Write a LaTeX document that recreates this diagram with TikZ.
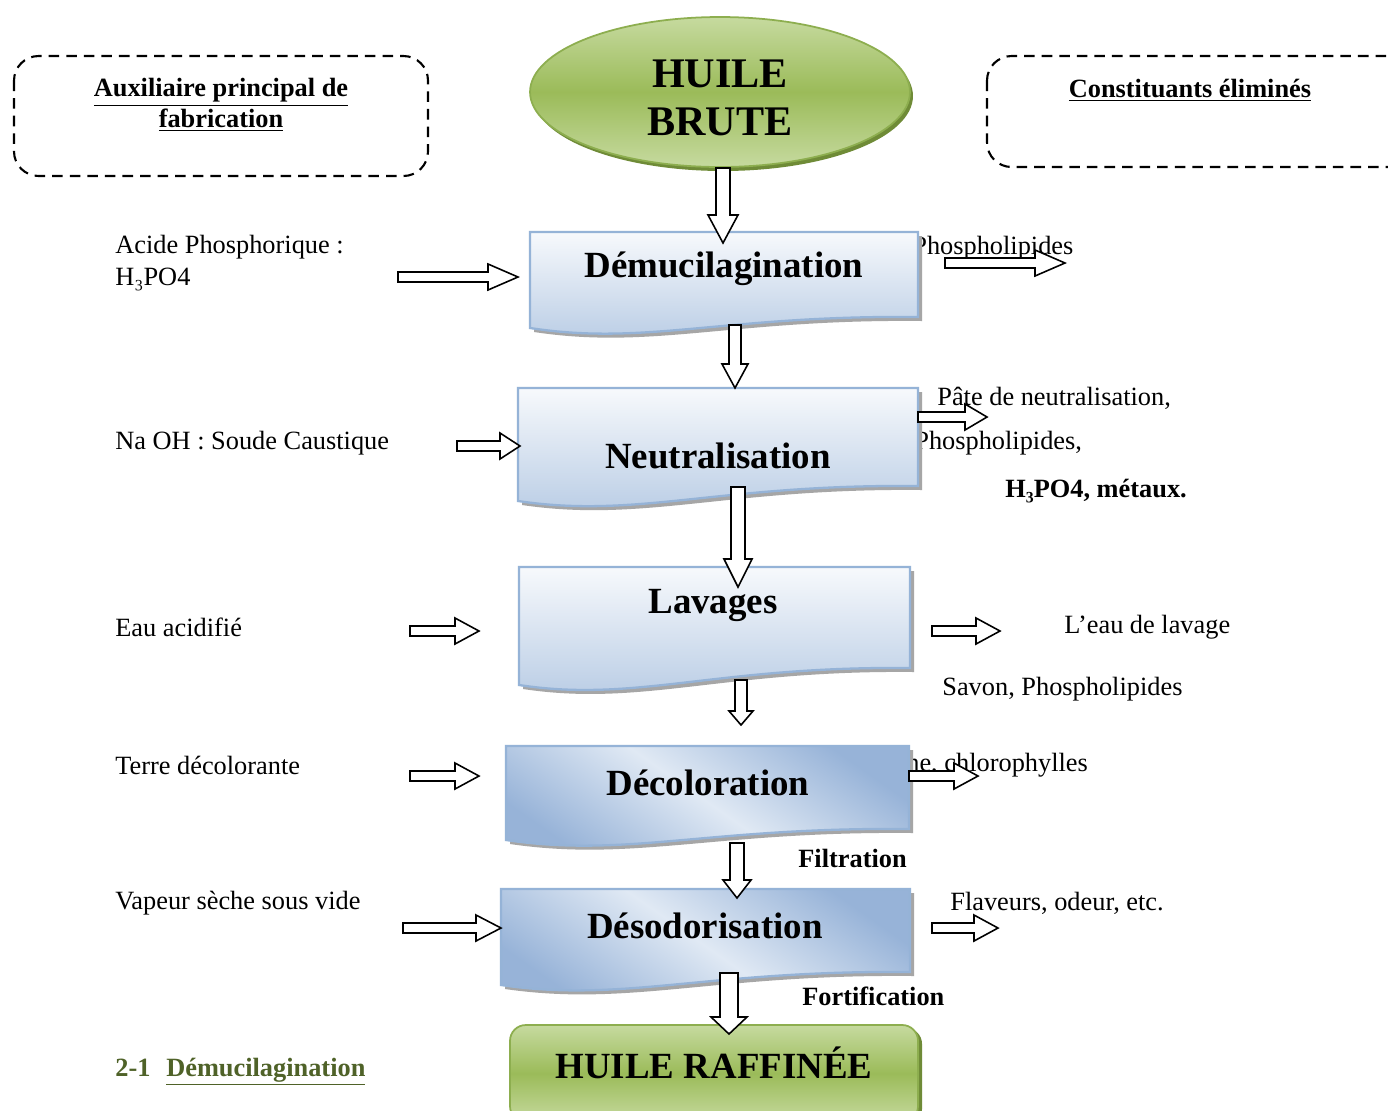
\documentclass[tikz,border=0pt]{standalone}
\usepackage{fontspec}
\setmainfont{Liberation Serif}
\definecolor{bluebd}{HTML}{95B3D7}
\definecolor{bluetop}{HTML}{F7F9FC}
\definecolor{bluebot}{HTML}{B7CBE4}
\definecolor{bluedark}{HTML}{97B3D8}
\definecolor{bluelight}{HTML}{E0E9F4}
\definecolor{shadowgray}{HTML}{A6A6A6}
\definecolor{greentop}{HTML}{C6DA9F}
\definecolor{greenmid}{HTML}{9BBB59}
\definecolor{greenbd}{HTML}{8DAE4F}
\definecolor{greenshadow}{HTML}{6F8B37}
\definecolor{olivetext}{HTML}{4F6228}
\newcommand\docpath[5]{(#1,#3) -- (#2,#3) -- (#2,#5) .. controls ({#1+0.5*(#2-#1)},{#5-2}) and ({#1+0.3*(#2-#1)},{#4+18}) .. (#1,#4) -- cycle}
\newcommand\procbox[6]{%
  \fill[docshadow] \docpath{#2+4}{#3+4}{#4+4}{#5+4}{#6+4};
  \path[#1] \docpath{#2}{#3}{#4}{#5}{#6};}
\newcommand\harrow[4]{% x1 x2 y headlen
  \draw[barrow] ({#1},{#3-5}) -- ({#2-#4},{#3-5}) -- ({#2-#4},{#3-13}) -- ({#2},{#3}) -- ({#2-#4},{#3+13}) -- ({#2-#4},{#3+5}) -- ({#1},{#3+5}) -- cycle;}
\newcommand\varrow[6]{% x y1 y2 headlen shafthalf headhalf
  \draw[barrow] ({#1-#5},{#2}) -- ({#1-#5},{#3-#4}) -- ({#1-#6},{#3-#4}) -- ({#1},{#3}) -- ({#1+#6},{#3-#4}) -- ({#1+#5},{#3-#4}) -- ({#1+#5},{#2}) -- cycle;}
\begin{document}
\begin{tikzpicture}[x=0.02cm,y=-0.02cm,
  every node/.style={inner sep=0pt, font=\fontsize{15}{18}\selectfont},
  txt/.style={anchor=west},
  boldtxt/.style={anchor=west, font=\bfseries\fontsize{15}{18}\selectfont},
  barrow/.style={draw=black, fill=white, line width=0.9pt, line join=miter},
  docbox/.style={draw=bluebd, line width=1.3pt, top color=bluetop, bottom color=bluebot},
  docboxb/.style={draw=bluebd, line width=1.3pt, top color=bluedark, bottom color=bluedark, middle color=bluelight, shading angle=-35},
  docshadow/.style={fill=shadowgray},
  titletxt/.style={font=\bfseries\fontsize{21}{24}\selectfont},
  dashbox/.style={draw=black, line width=1.2pt, dash pattern=on 6pt off 4pt, rounded corners=14pt},
  greenfill/.style={draw=greenbd, line width=1pt, top color=greentop, bottom color=greentop, middle color=greenmid}
]
\clip (0,0) rectangle (1388,1110);
\fill[white] (0,0) rectangle (1388,1110);

% dashed header boxes
\draw[dashbox] (14,56) rectangle (428,176);
\draw[dashbox] (987,56) rectangle (1420,167);
\node[align=center, font=\bfseries\fontsize{15}{17.6}\selectfont] (aux) at (221,105) {\underline{Auxiliaire principal de}\\\underline{fabrication}};
\node[font=\bfseries\fontsize{15}{18}\selectfont] (const) at (1190,90) {\underline{Constituants éliminés}};

% texts partially hidden behind boxes
\node[txt] (phos1) at (912,248) {Phospholipides};
\node[txt] (phos2) at (914,443) {Phospholipides,};
\node[txt] (chloro) at (906,765) {ne, chlorophylles};

% HUILE BRUTE
\fill[greenshadow] (723,96) ellipse [x radius=3.8cm, y radius=1.5cm];
\path[greenfill] (720,92) ellipse [x radius=3.8cm, y radius=1.5cm];
\node[align=center, font=\bfseries\fontsize{24}{27}\selectfont] (brute) at (720,98) {HUILE\\BRUTE};

% process boxes
\procbox{docbox}{530}{918}{232}{328}{317}
\node[titletxt] (demuc) at (724,269) {Démucilagination};
\procbox{docbox}{518}{918}{388}{501}{486}
\node[titletxt] (neutr) at (718,456) {Neutralisation};
\procbox{docbox}{519}{910}{567}{685}{668}
\node[titletxt] (lavag) at (713,605) {Lavages};
\procbox{docboxb}{506}{909}{746}{840}{829}
\node[titletxt] (decol) at (708,783) {Décoloration};
\procbox{docboxb}{501}{910}{889}{985}{972}
\node[titletxt] (desod) at (705,926) {Désodorisation};

% HUILE RAFFINEE
\fill[greenshadow, rounded corners=9pt] (513,1028) rectangle (922,1125);
\path[greenfill, rounded corners=9pt] (510,1025) rectangle (918,1122);
\node[font=\bfseries\fontsize{21}{24}\selectfont] (raff) at (714,1063) {HUILE RAFFINÉE};

% left texts
\node[txt] (acide) at (115,247) {Acide Phosphorique :};
\node[txt] (h3po) at (115,279) {H₃PO4};
\node[txt] (naoh) at (115,443) {Na OH : Soude Caustique};
\node[txt] (eau) at (115,627) {Eau acidifié};
\node[txt] (terre) at (115,765) {Terre décolorante};
\node[txt] (vapeur) at (115,903) {Vapeur sèche sous vide};
\node[boldtxt, text=olivetext] (sect) at (115,1072) {2-1\hspace{0.6em}\underline{Démucilagination}};

% right texts
\node[txt] (pate) at (937,398) {Pâte de neutralisation,};
\node[boldtxt] (h3po2) at (1005,491) {H₃PO4, métaux.};
\node[txt] (leau) at (1064,627) {L’eau de lavage};
\node[txt] (savon) at (942,689) {Savon, Phospholipides};
\node[boldtxt] (filt) at (798,858) {Filtration};
\node[txt] (flav) at (950,903) {Flaveurs, odeur, etc.};
\node[boldtxt] (fort) at (802,996) {Fortification};

% vertical arrows
\varrow{723}{168}{243}{28}{7}{15}
\varrow{735}{325}{388}{24}{6}{13}
\varrow{738}{487}{587}{28}{7}{14}
\varrow{741}{680}{725}{14}{6}{12}
\varrow{737}{843}{898}{18}{7}{14}
\varrow{729}{973}{1034}{17}{9}{18}

% left arrows
\harrow{398}{518}{277}{30}
\harrow{457}{520}{446}{20}
\harrow{410}{479}{631}{24}
\harrow{410}{479}{776}{24}
\harrow{403}{501}{928}{25}

% right arrows
\harrow{945}{1065}{263}{30}
\harrow{918}{987}{417}{22}
\harrow{932}{1000}{631}{24}
\harrow{909}{978}{776}{24}
\harrow{932}{998}{928}{24}
\end{tikzpicture}
\end{document}
